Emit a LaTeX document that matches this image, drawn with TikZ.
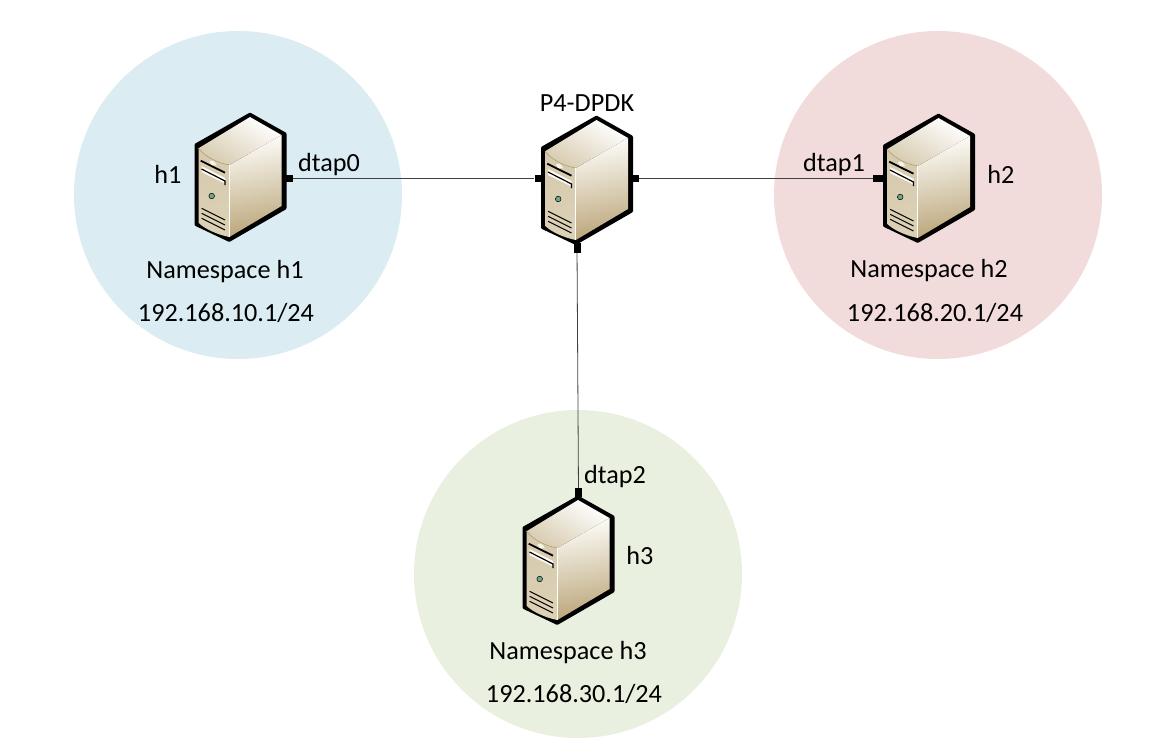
\documentclass[tikz,border=0pt]{standalone}
\usepackage{fontspec}
\setmainfont{Carlito}
\usetikzlibrary{positioning}
\definecolor{zoneblue}{HTML}{DBEDF3}
\definecolor{zonered}{HTML}{F2DCDB}
\definecolor{zonegreen}{HTML}{E9F0DF}
\tikzset{
	pics/server/.style={code={
		\fill[black, rounded corners=1pt] (9.5,-64.5) -- (46,-44) -- (46,32) -- (-11.2,65) -- (-46,48.5) -- (-46,-33) -- cycle;
		\shade[left color=d1, middle color=d2, right color=d3, shading angle=15] (-42,-28.7) .. controls (-34,-19) and (-22,-14) .. (-11.2,-12) -- (-11.2,60) .. controls (-22,58) and (-36,52) .. (-42,45.7) -- cycle;
		\shade[left color=d4, middle color=d5, right color=d6, shading angle=10] (-11.2,-12) -- (41,-42) -- (41,29) -- (-11.2,60) -- cycle;
		\shade[left color=d7, right color=d8, shading angle=-30] (-42,-28.7) -- (9.5,-60) -- (41,-42) -- (-11.2,-12) .. controls (-22,-14) and (-34,-19) .. cycle;
		\draw[line width=.7pt, draw=d6] (-42,-28.7) .. controls (-34,-19) and (-22,-14) .. (-11.2,-12);
		\draw[line width=.7pt, draw=white] (-11.2,-12) -- (-11.2,60);
		\draw[line width=1.8pt] (-39.8,-16.3) -- (-15.5,-4.3);
		\fill[white!92!d1] (-39,-11) -- (-15.5,1) -- (-15.5,6.5) -- (-39,-5) -- cycle;
		\fill[d2] (-31,-15.5) .. controls (-28,-17.5) and (-26,-16) .. (-24,-12) -- (-29,-12) -- cycle;
		\draw[line width=1.2pt] (-39,-8) -- (-15.5,4) -- (-15.5,8);
		\draw[line width=.5pt, fill=ledgreen] (-28.8,19) circle (2.8);
		\draw[line width=1pt] (-38.8,31.3) -- (-15.5,43);
		\draw[line width=1pt] (-38.8,36.3) -- (-15.5,48);
		\draw[line width=1pt] (-38.8,41.3) -- (-15.5,53);
	}},
	srv/.style={rectangle, inner sep=0pt, minimum width=91pt, minimum height=128pt},
	port/.style={rectangle, fill=black, inner sep=0pt, minimum width=8pt, minimum height=7pt},
	zone/.style={circle, inner sep=0pt, minimum size=328pt},
	lbl/.style={inner sep=0pt, font=\fontsize{26.2}{30}\selectfont},
	wire/.style={line width=.8pt, draw=black!75}
}
\definecolor{d1}{HTML}{D6CAAE}
\definecolor{d2}{HTML}{F7F4EA}
\definecolor{d3}{HTML}{DDD1B5}
\definecolor{d4}{HTML}{FDFCF8}
\definecolor{d5}{HTML}{EDE6D6}
\definecolor{d6}{HTML}{BBA67A}
\definecolor{d7}{HTML}{FFFFFF}
\definecolor{d8}{HTML}{D8CCB0}
\definecolor{ledgreen}{HTML}{6FA58E}
\begin{document}
\begin{tikzpicture}[x=1pt, y=-1pt]
	\useasboundingbox (0,0) rectangle (1169,753);
	\node[zone, fill=zoneblue] (zone1) at (238,195) {};
	\node[zone, fill=zonered] (zone2) at (938,195) {};
	\node[zone, fill=zonegreen] (zone3) at (578,574) {};

	\node[srv] (h1) at (240.5,177) {};
	\node[srv] (dpdk) at (587,180) {};
	\node[srv] (h2) at (929,178) {};
	\node[srv] (h3) at (568.5,560) {};
	\pic at (h1) {server};
	\pic at (dpdk) {server};
	\pic at (h2) {server};
	\pic at (h3) {server};

	\node[port] (h1_port) at (289,178) {};
	\node[port] (dpdk_west) at (538.5,178) {};
	\node[port] (dpdk_east) at (634.5,178) {};
	\node[port, minimum width=7pt, minimum height=10pt] (dpdk_south) at (577,248) {};
	\node[port, minimum width=12pt] (h2_port) at (879,178) {};
	\node[port, minimum width=7pt, minimum height=9pt] (h3_port) at (578.5,492.5) {};

	\path[wire] (h1_port) edge (dpdk_west);
	\path[wire] (dpdk_east) edge (h2_port);
	\path[wire] (dpdk_south) edge (h3_port);

	\node[lbl] (h1_label) at (168,174) {h1};
	\node[lbl] (h2_label) at (1001,174) {h2};
	\node[lbl] (h3_label) at (640,555) {h3};
	\node[lbl] (dpdk_label) at (587,103) {P4-DPDK};
	\node[lbl] (dtap0) at (329,165) {dtap0};
	\node[lbl] (dtap1) at (834,165) {dtap1};
	\node[lbl] (dtap2) at (615,477) {dtap2};
	\node[lbl] (ns1) at (225,272) {Namespace h1};
	\node[lbl] (ns2) at (929,271) {Namespace h2};
	\node[lbl] (ns3) at (568,653) {Namespace h3};
	\node[lbl] (ip1) at (226,313) {192.168.10.1/24};
	\node[lbl] (ip2) at (935,313) {192.168.20.1/24};
	\node[lbl] (ip3) at (574,694) {192.168.30.1/24};
\end{tikzpicture}
\end{document}
